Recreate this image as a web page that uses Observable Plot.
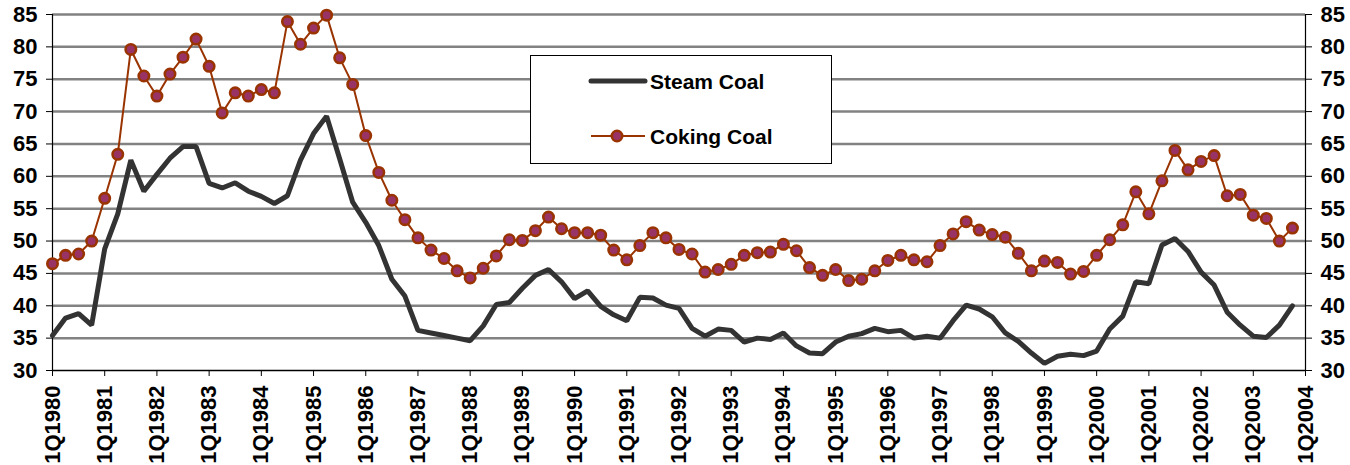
<!DOCTYPE html>
<html>
<head>
<meta charset="utf-8">
<script src="https://cdn.jsdelivr.net/npm/d3@7"></script>
<script src="https://cdn.jsdelivr.net/npm/@observablehq/plot@0.6"></script>
<style>
  html, body { margin: 0; padding: 0; background: #fff; }
  #chart { width: 1350px; height: 465px; position: relative; }
</style>
</head>
<body>
<div id="chart"></div>
<script>
// Quarterly data, 1Q1980 .. 4Q2003
const startYear = 1980;
const steamCoal = [
  35.4, 38.1, 38.8, 37.0, 48.8, 54.2, 62.5, 57.7,
  60.3, 62.8, 64.6, 64.6, 58.9, 58.2, 59.0, 57.7,
  56.9, 55.8, 57.0, 62.5, 66.6, 69.3, 62.7, 56.0,
  52.9, 49.3, 44.1, 41.5, 36.2, 35.8, 35.4, 35.0,
  34.6, 36.9, 40.2, 40.5, 42.7, 44.7, 45.6, 43.7,
  41.1, 42.3, 39.9, 38.6, 37.7, 41.3, 41.2, 40.1,
  39.6, 36.5, 35.3, 36.4, 36.2, 34.4, 35.0, 34.8,
  35.8, 33.8, 32.7, 32.6, 34.4, 35.3, 35.7, 36.5,
  36.0, 36.2, 35.0, 35.3, 35.0, 37.7, 40.1, 39.5,
  38.3, 35.8, 34.5, 32.7, 31.1, 32.2, 32.5, 32.3,
  33.0, 36.4, 38.4, 43.7, 43.4, 49.4, 50.4, 48.4,
  45.2, 43.2, 39.0, 37.0, 35.3, 35.1, 37.0, 40.0
];
const cokingCoal = [
  46.5, 47.8, 48.0, 50.0, 56.6, 63.4, 79.6, 75.5,
  72.4, 75.8, 78.4, 81.2, 77.0, 69.8, 72.9, 72.4,
  73.4, 72.9, 83.9, 80.4, 82.9, 84.9, 78.3, 74.2,
  66.3, 60.6, 56.3, 53.3, 50.5, 48.6, 47.3, 45.4,
  44.3, 45.8, 47.7, 50.2, 50.1, 51.6, 53.7, 51.9,
  51.3, 51.3, 50.9, 48.6, 47.1, 49.3, 51.3, 50.5,
  48.7, 48.0, 45.2, 45.6, 46.4, 47.8, 48.2, 48.3,
  49.5, 48.5, 45.9, 44.7, 45.6, 43.9, 44.1, 45.4,
  47.0, 47.8, 47.1, 46.8, 49.3, 51.1, 53.0, 51.7,
  51.0, 50.6, 48.1, 45.4, 46.9, 46.7, 44.9, 45.3,
  47.8, 50.2, 52.5, 57.6, 54.2, 59.3, 64.0, 61.0,
  62.3, 63.2, 57.0, 57.2, 54.0, 53.5, 50.0, 52.0
];
const tickLabels = [
  "1Q1980","1Q1981","1Q1982","1Q1983","1Q1984","1Q1985","1Q1986","1Q1987",
  "1Q1988","1Q1989","1Q1990","1Q1991","1Q1992","1Q1993","1Q1994","1Q1995",
  "1Q1996","1Q1997","1Q1998","1Q1999","1Q2000","1Q2001","1Q2002","1Q2003","1Q2004"
];
const yTicks = [30, 35, 40, 45, 50, 55, 60, 65, 70, 75, 80, 85];
const seriesNames = ["Steam Coal", "Coking Coal"];

const quarters = [];
for (let i = 0; i < steamCoal.length; i++) {
  quarters.push(`${(i % 4) + 1}Q${startYear + Math.floor(i / 4)}`);
}
const table = quarters.map((q, i) => ({i, q, steam: steamCoal[i], coking: cokingCoal[i]}));
const tickPos = tickLabels.map((_, k) => k * 4);

const STEAM = "#333333", COKE_LINE = "#993300", COKE_FILL = "#993366", GRID = "#828282";

const plot = Plot.plot({
  width: 1350,
  height: 465,
  marginLeft: 52,
  marginRight: 45,
  marginTop: 14,
  marginBottom: 95,
  style: {fontFamily: "'Liberation Sans', Arial, sans-serif", fontSize: "22px", fontWeight: "bold", color: "#000", background: "#fff"},
  x: {type: "linear", domain: [0, 96]},
  y: {domain: [30, 85]},
  marks: [
    Plot.ruleY(yTicks.filter(d => d > 30), {stroke: GRID, strokeWidth: 2.5}),
    Plot.axisY({anchor: "left", ticks: yTicks, tickSize: 6, tickPadding: 9, label: null, stroke: "#000"}),
    Plot.axisY({anchor: "right", ticks: yTicks, tickSize: 6, tickPadding: 9, label: null, stroke: "#000"}),
    Plot.axisX({ticks: tickPos, tickFormat: d => tickLabels[d / 4], tickRotate: -90, tickSize: 6, tickPadding: 9, label: null, stroke: "#000"}),
    Plot.ruleX([0, 96], {stroke: "#000", strokeWidth: 1.2}),
    Plot.ruleY([30], {stroke: "#000", strokeWidth: 1.5}),
    Plot.line(table, {x: "i", y: "steam", stroke: STEAM, strokeWidth: 5, strokeLinejoin: "miter"}),
    Plot.line(table, {x: "i", y: "coking", stroke: COKE_LINE, strokeWidth: 2}),
    Plot.dot(table, {x: "i", y: "coking", r: 5.2, fill: COKE_FILL, stroke: COKE_LINE, strokeWidth: 2.6})
  ]
});
document.getElementById("chart").appendChild(plot);

// Legend box inside the plot area
const svg = d3.select(plot);
const lg = svg.append("g")
  .attr("font-family", "'Liberation Sans', Arial, sans-serif")
  .attr("font-weight", "bold")
  .attr("font-size", "21px")
  .attr("text-anchor", "start");
lg.append("rect").attr("x", 530.5).attr("y", 55.5).attr("width", 301).attr("height", 108).attr("fill", "#fff").attr("stroke", "#000").attr("stroke-width", 1);
lg.append("line").attr("x1", 591).attr("x2", 645).attr("y1", 81).attr("y2", 81).attr("stroke", STEAM).attr("stroke-width", 5).attr("stroke-linecap", "round");
lg.append("text").attr("x", 650).attr("y", 81).attr("dy", "0.36em").attr("text-anchor", "start").text(seriesNames[0]);
lg.append("line").attr("x1", 591).attr("x2", 645).attr("y1", 136).attr("y2", 136).attr("stroke", COKE_LINE).attr("stroke-width", 2);
lg.append("circle").attr("cx", 617).attr("cy", 136).attr("r", 5.2).attr("fill", COKE_FILL).attr("stroke", COKE_LINE).attr("stroke-width", 2.6);
lg.append("text").attr("x", 650).attr("y", 136).attr("dy", "0.36em").attr("text-anchor", "start").text(seriesNames[1]);
</script>
</body>
</html>
